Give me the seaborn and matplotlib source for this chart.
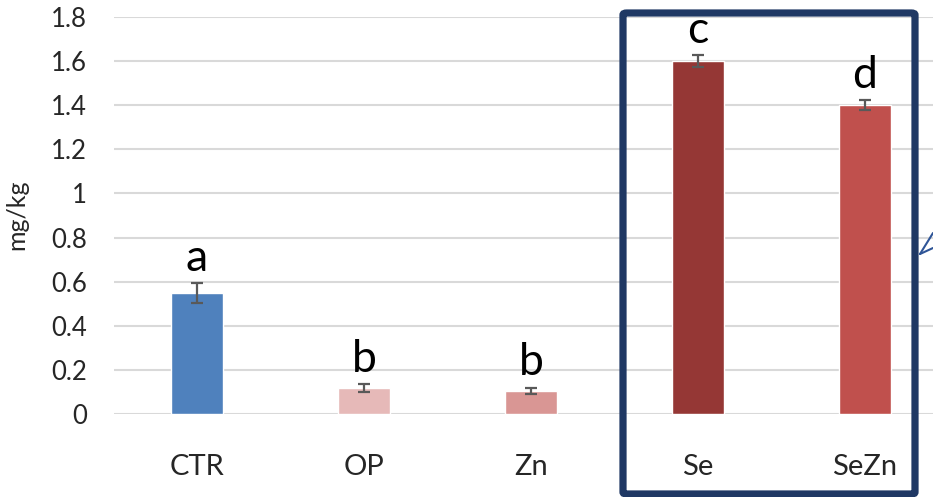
import matplotlib
matplotlib.use("Agg")
import matplotlib.pyplot as plt
from matplotlib.patches import FancyBboxPatch
from matplotlib.lines import Line2D
import seaborn as sns
import pandas as pd

# Treatment groups, mean concentration (mg/kg), error and significance letters
groups = ["CTR", "OP", "Zn", "Se", "SeZn"]
means = [0.55, 0.117, 0.106, 1.60, 1.40]
errors = [0.045, 0.018, 0.014, 0.026, 0.022]
letters = ["a", "b", "b", "c", "d"]
bar_colors = ["#4F81BD", "#E6B9B8", "#D99694", "#953735", "#C0504D"]
y_ticks = [0, 0.2, 0.4, 0.6, 0.8, 1, 1.2, 1.4, 1.6, 1.8]
y_tick_labels = ["0", "0.2", "0.4", "0.6", "0.8", "1", "1.2", "1.4", "1.6", "1.8"]

sns.set_style("white")
plt.rcParams["font.family"] = ["Lato", "DejaVu Sans"]

df = pd.DataFrame({"group": groups, "value": means})

W, H = 933, 497
fig = plt.figure(figsize=(W / 100, H / 100), dpi=100)
ax = fig.add_axes([113.5 / W, (H - 414) / H, 835 / W, (414 - 17) / H])

sns.barplot(data=df, x="group", y="value", hue="group", palette=bar_colors,
            order=groups, hue_order=groups, width=0.31, legend=False,
            saturation=1, ax=ax, zorder=2)
ax.errorbar(range(len(groups)), means, yerr=errors, fmt="none",
            ecolor="#595959", elinewidth=1.6, capsize=4.3, capthick=1.6, zorder=3)

for i, (m, e, t) in enumerate(zip(means, errors, letters)):
    ax.annotate(t, (i, m + e), xytext=(0, 3), textcoords="offset points",
                ha="center", va="bottom", fontsize=32, color="black")

ax.set_ylim(0, 1.8)
ax.set_xlim(-0.5, len(groups) - 0.5)
ax.set_yticks(y_ticks)
ax.set_yticklabels(y_tick_labels)
ax.yaxis.grid(True, color="#D9D9D9", linewidth=1.5, zorder=0)
ax.set_axisbelow(True)
for s in ["top", "right", "left", "bottom"]:
    ax.spines[s].set_visible(False)
ax.tick_params(axis="y", length=0, pad=19, labelsize=18.5)
ax.tick_params(axis="x", length=0, pad=29, labelsize=21)
ax.set_xlabel("")
ax.set_ylabel("mg/kg", fontsize=18, labelpad=4)
ax.yaxis.set_label_coords(-(113.5 - 28) / 835, (414 - 215) / (414 - 17))

# Highlight box around the selenium groups
box = FancyBboxPatch((623 / W, (H - 494) / H), (915 - 623) / W, (494 - 13) / H,
                     boxstyle="round,pad=0,rounding_size=0.004",
                     transform=fig.transFigure, fill=False,
                     edgecolor="#1F3864", linewidth=5.2, zorder=10)
fig.patches.append(box)

# Connector lines leaving the box to the right
for x2, y2 in [(933, 233), (933, 248)]:
    fig.lines.append(Line2D([920 / W, x2 / W], [(H - 254) / H, (H - y2) / H],
                            transform=fig.transFigure, color="#2F5597", linewidth=1.5))

fig.savefig("out.png", dpi=100)
